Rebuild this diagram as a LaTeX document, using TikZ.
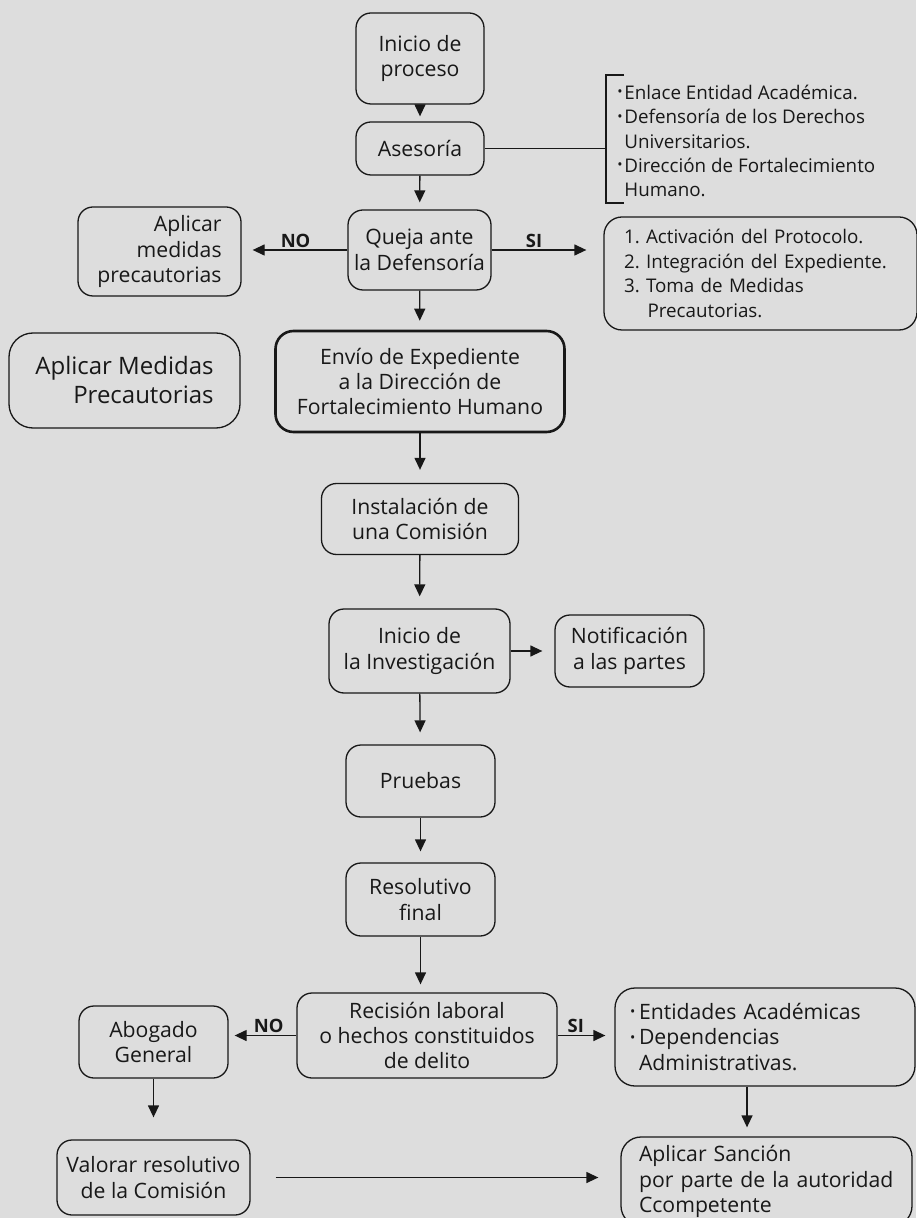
\documentclass[tikz,border=0pt]{standalone}
\usepackage{fontspec}
\setmainfont{Open Sans}
\usetikzlibrary{arrows.meta}
\definecolor{fondo}{RGB}{221,221,221}
\definecolor{tinta}{RGB}{24,24,24}
\newcommand{\punto}[1]{\makebox[#1][l]{\raisebox{.25ex}{\fontsize{7}{7}\selectfont •}}}
\frenchspacing

\begin{document}
\begin{tikzpicture}[x=0.5pt,y=-0.5pt,
    caja/.style={draw=tinta,line width=0.65pt,rounded corners=7.5pt,align=center,
      inner sep=0pt,text=tinta,font=\fontsize{10.6}{12.7}\selectfont},
    lista/.style={align=left,inner sep=0pt,text=tinta,font=\fontsize{9.4}{12.2}\selectfont},
    flecha/.style={draw=tinta,line width=0.65pt,-{Triangle[length=6pt,width=5.5pt]}},
    etiqueta/.style={text=tinta,inner sep=1pt,font=\fontsize{9.2}{11}\selectfont\bfseries}]
  \fill[fondo] (0,0) rectangle (916,1218);
  \useasboundingbox (0,0) rectangle (916,1218);
  \path
    (420,58.5) node[caja,minimum width=64pt,minimum height=45.5pt] (inicio){Inicio de\\proceso}
    (420,148.5) node[caja,minimum width=64pt,minimum height=26.5pt] (asesoria){Asesoría}
    (419.5,250) node[caja,minimum width=71.5pt,minimum height=40pt] (queja){Queja ante\\la Defensoría}
    (159.5,251.5) node[caja,align=right,minimum width=81.5pt,minimum height=44.5pt] (medidas){Aplicar\\medidas\\precautorias}
    (760.5,273.5) node[caja,lista,draw,rounded corners=9pt,text width=136.5pt,inner xsep=10pt,
      minimum height=56.5pt] (protocolo){1. Activación del Protocolo.\\2. Integración del Expediente.\\3. Toma de Medidas\\\hspace*{1.25em}Precautorias.}
    (420,381.5) node[caja,line width=1.3pt,rounded corners=9pt,minimum width=144.5pt,minimum height=50.5pt] (envio){Envío de Expediente\\a la Dirección de\\Fortalecimiento Humano}
    (124.5,380.5) node[caja,align=right,rounded corners=12pt,minimum width=115.5pt,minimum height=47.5pt,
      font=\fontsize{12}{14.5}\selectfont] (precautorias){Aplicar Medidas\\Precautorias}
    (420,519) node[caja,minimum width=98.5pt,minimum height=35.5pt] (instalacion){Instalación de\\una Comisión}
    (419.5,651) node[caja,minimum width=90.5pt,minimum height=42pt] (investigacion){Inicio de\\la Investigación}
    (629.5,651) node[caja,minimum width=74.5pt,minimum height=36pt] (notificacion){Notificación\\a las partes}
    (420.5,781) node[caja,minimum width=74.5pt,minimum height=36pt] (pruebas){Pruebas}
    (420.5,899.5) node[caja,minimum width=74.5pt,minimum height=36.5pt] (resolutivo){Resolutivo\\final}
    (427,1035.5) node[caja,minimum width=130pt,minimum height=42.5pt] (recision){Recisión laboral\\o hechos constituidos\\de delito}
    (153.5,1042) node[caja,minimum width=74.5pt,minimum height=36pt] (abogado){Abogado\\General}
    (765,1037) node[caja,align=left,rounded corners=10pt,text width=135pt,inner xsep=7.5pt,
      minimum height=49pt] (entidades){\punto{4.5pt}Entidades Académicas\\\punto{4.5pt}Dependencias\\\hspace*{4.5pt}Administrativas.}
    (153.5,1177.5) node[caja,minimum width=96.5pt,minimum height=37.5pt] (valorar){Valorar resolutivo\\de la Comisión}
    (766.5,1181.5) node[caja,align=left,rounded corners=10pt,text width=127.5pt,inner xsep=9pt,
      minimum height=44.5pt] (sancion){Aplicar Sanción\\por parte de la autoridad\\Ccompetente}
    (617,141) node[lista,anchor=west] (areas){\punto{3.5pt}Enlace Entidad Académica.\\\punto{3.5pt}Defensoría de los Derechos\\\hspace*{3.5pt}Universitarios.\\\punto{3.5pt}Dirección de Fortalecimiento\\\hspace*{3.5pt}Humano.};
  \coordinate (llave) at (606,148.5);
  \draw[tinta,line width=0.65pt] (624,75) -- (606,75) -- (606,203) -- (624,203);
  \draw[tinta,line width=0.65pt] (asesoria) -- (llave);
  \begin{scope}[flecha]
    \draw[shorten >=2.5pt] (inicio) to (asesoria);
    \draw[shorten >=3.5pt] (asesoria) to (queja);
    \draw[shorten >=4.5pt] (queja) to (envio);
    \draw[shorten >=6.5pt] (envio) to (instalacion);
    \draw[shorten >=6pt] (instalacion) to (investigacion);
    \draw[shorten >=6pt] (investigacion.east) to (investigacion.east -| notificacion.west);
    \draw[shorten >=6pt] (investigacion) to (pruebas);
    \draw[shorten >=5.5pt] (pruebas) to (resolutivo);
    \draw[shorten >=4pt] (resolutivo) to (resolutivo |- recision.north);
    \draw[shorten >=5.5pt] (queja.west) to node[etiqueta,above,pos=.49]{NO} (queja.west -| medidas.east);
    \draw[shorten >=8.5pt] (queja.east) to node[etiqueta,above,pos=.38]{SI} (queja.east -| protocolo.west);
    \draw[shorten >=3pt] (recision.west) to node[etiqueta,above,pos=.41]{NO} (recision.west -| abogado.east);
    \draw[shorten >=4.5pt] (recision.east) to node[etiqueta,above,pos=.32]{SI} (recision.east -| entidades.west);
    \draw[shorten >=4.5pt] ([xshift=-9pt]entidades.south) to ([xshift=-9pt]entidades.south |- sancion.north);
    \draw[shorten >=11pt] (abogado) to (valorar);
    \draw[shorten <=12.5pt,shorten >=11pt] (valorar.east) to (valorar.east -| sancion.west);
  \end{scope}
\end{tikzpicture}
\end{document}
